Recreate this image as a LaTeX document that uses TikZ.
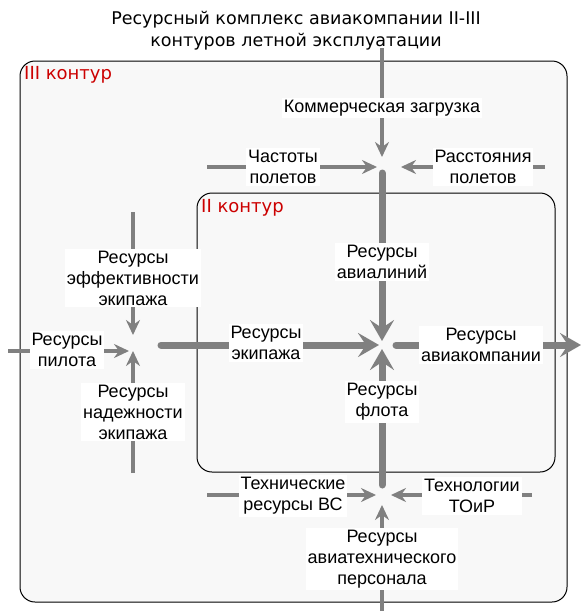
\documentclass[tikz,border=0pt]{standalone}
\usepackage{fontspec}
\setmainfont{Liberation Sans}
\newfontfamily\verd{DejaVu Sans}
\usetikzlibrary{arrows.meta}
\definecolor{arr}{RGB}{128,128,128}
\definecolor{boxfill}{RGB}{248,248,248}
\definecolor{redtxt}{RGB}{204,0,0}
\pgfdeclarelayer{bg}
\pgfsetlayers{bg,main}
\begin{document}
\begin{tikzpicture}[x=1pt,y=-1pt,
  lbl/.style={fill=white, inner sep=2pt, align=center, font=\fontsize{18}{21}\selectfont},
  thinarr/.style={draw=arr, line width=3.2pt, -{Stealth[length=15pt,width=14pt,inset=5pt]}},
  thickarr/.style={draw=arr, line width=7pt, line cap=round, -{Stealth[length=21pt,width=24pt,inset=8pt]}},
  contour/.style={draw=black, line width=1pt, rounded corners=15pt, fill=boxfill},
  ctitle/.style={text=redtxt, anchor=west, inner sep=0pt, font=\verd\fontsize{18}{20}\selectfont}]
\useasboundingbox (0,0) rectangle (581,611);

% title
\node[align=center, inner sep=0pt, font=\verd\fontsize{17.5}{22}\selectfont] (title) at (296,31)
  {Ресурсный комплекс авиакомпании II-III\\контуров летной эксплуатации};

% contour labels
\node[ctitle] (c3) at (24,75) {III контур};
\node[ctitle] (c2) at (201,208) {II контур};

% labels
\node[lbl] (kom) at (382,108) {Коммерческая загрузка};
\node[lbl] (chas) at (283,167) {Частоты\\полетов};
\node[lbl] (rass) at (483,167) {Расстояния\\полетов};
\node[lbl] (avl) at (382,262) {Ресурсы\\авиалиний};
\node[lbl] (eff) at (133,278) {Ресурсы\\эффективности\\экипажа};
\node[lbl] (pil) at (67,350) {Ресурсы\\пилота};
\node[lbl] (nad) at (133,412) {Ресурсы\\надежности\\экипажа};
\node[lbl] (ekip) at (266,343) {Ресурсы\\экипажа};
\node[lbl] (akom) at (481,345) {Ресурсы\\авиакомпании};
\node[lbl] (flot) at (382,402) {Ресурсы\\флота};
\node[lbl] (tech) at (293,496) {Технические\\ресурсы ВС};
\node[lbl] (toir) at (472,496) {Технологии\\ТОиР};
\node[lbl] (pers) at (382,559) {Ресурсы\\авиатехнического\\персонала};

% coordinates
\coordinate (tA) at (382,48);
\coordinate (uT) at (382,157);
\coordinate (chS) at (207,167);
\coordinate (uL) at (377,167);
\coordinate (raS) at (545,167);
\coordinate (uR) at (401,167);
\coordinate (avS) at (382,173);
\coordinate (cT) at (382,341);
\coordinate (efS) at (133,212);
\coordinate (lT) at (133,335);
\coordinate (piS) at (8,351);
\coordinate (lL) at (129,351);
\coordinate (naS) at (133,473);
\coordinate (lB) at (133,351);
\coordinate (ekS) at (161,345);
\coordinate (cL) at (379,345);
\coordinate (akS) at (396,345);
\coordinate (cR) at (581,345);
\coordinate (flS) at (382,485);
\coordinate (cB) at (382,349);
\coordinate (teS) at (207,495);
\coordinate (bL) at (376,495);
\coordinate (toS) at (532,495);
\coordinate (bR) at (391,495);
\coordinate (peS) at (382,611);
\coordinate (bB) at (382,505);

\begin{pgfonlayer}{bg}
  \draw[contour] (20,61) rectangle (567,602);
  \draw[contour] (197,193) rectangle (555,472);
  \draw[thinarr] (tA) -- (uT);
  \draw[thinarr] (chS) -- (uL);
  \draw[thinarr] (raS) -- (uR);
  \draw[thickarr] (avS) -- (cT);
  \draw[thinarr] (efS) -- (lT);
  \draw[thinarr] (piS) -- (lL);
  \draw[thinarr] (naS) -- (lB);
  \draw[thickarr] (ekS) -- (cL);
  \draw[thickarr] (akS) -- (cR);
  \draw[thickarr] (flS) -- (cB);
  \draw[thinarr] (teS) -- (bL);
  \draw[thinarr] (toS) -- (bR);
  \draw[thinarr] (peS) -- (bB);
\end{pgfonlayer}
\end{tikzpicture}
\end{document}
